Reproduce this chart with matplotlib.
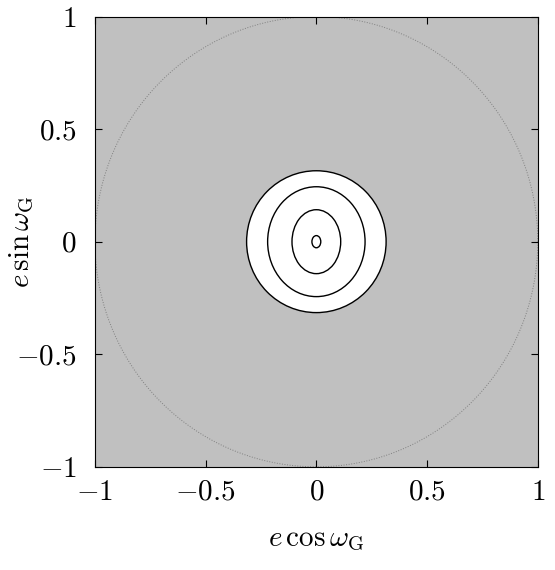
import numpy as np
import matplotlib
matplotlib.use("Agg")
import matplotlib.pyplot as plt
from matplotlib.patches import Circle, Ellipse

plt.rcParams["font.family"] = "serif"
plt.rcParams["font.serif"] = ["cmr10"]
plt.rcParams["mathtext.fontset"] = "cm"
plt.rcParams["axes.formatter.use_mathtext"] = True

# --- DATA ---
allowed_radius = 0.315          # white (allowed) region
contour_a = [0.22, 0.11, 0.02]  # semi-axes along e cos w
contour_b = [0.244, 0.142, 0.027]  # semi-axes along e sin w
ticks = [-1, -0.5, 0, 0.5, 1]
tick_labels = ["$-1$", "$-0.5$", "$0$", "$0.5$", "$1$"]

fig = plt.figure(figsize=(5.55, 5.7), dpi=100)
ax = fig.add_axes([0.171, 0.181, 0.798, 0.790])
ax.set_facecolor("#c0c0c0")

ax.add_patch(Circle((0, 0), allowed_radius, facecolor="white", edgecolor="black", linewidth=1.0, zorder=2))
for a, b in zip(contour_a, contour_b):
    ax.add_patch(Ellipse((0, 0), 2 * a, 2 * b, facecolor="none", edgecolor="black", linewidth=1.0, zorder=3))

# unit circle e = 1
th = np.linspace(0, 2 * np.pi, 400)
ax.plot(np.cos(th), np.sin(th), color="#808080", linestyle=":", linewidth=0.7, zorder=1)

ax.set_xlim(-1, 1)
ax.set_ylim(-1, 1)
ax.set_xticks(ticks)
ax.set_xticklabels(tick_labels)
ax.set_yticks(ticks)
ax.set_yticklabels(tick_labels)
ax.tick_params(direction="in", length=5, width=0.8, top=True, right=True, labelsize=21)
ax.tick_params(axis="x", pad=9)
ax.tick_params(axis="y", pad=13)
ax.set_xlabel(r"$e\,\cos\omega_{\rm G}$", fontsize=21)
ax.set_ylabel(r"$e\,\sin\omega_{\rm G}$", fontsize=21)
ax.xaxis.set_label_coords(0.5, -0.163)
ax.yaxis.set_label_coords(-0.166, 0.5)
ax.xaxis.label.set_va("center")
ax.yaxis.label.set_va("center")

fig.savefig("out.png", dpi=100)
